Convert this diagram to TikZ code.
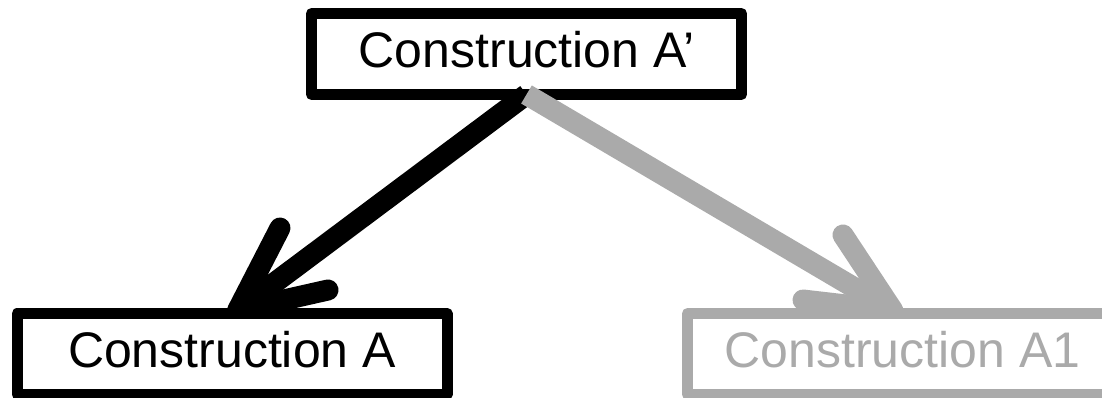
\documentclass[tikz,border=0pt]{standalone}
\usepackage{fontspec}
\setmainfont{Liberation Sans}
\definecolor{fadegray}{RGB}{170,170,170}
\begin{document}
\begin{tikzpicture}[x=1pt,y=-1pt,
  box/.style={draw, line width=11pt, line join=round, fill=white,
    minimum width=430pt, minimum height=81pt, inner sep=0pt, outer sep=0pt,
    font=\fontsize{50}{60}\selectfont, text height=36pt, text depth=9pt},
  faded/.style={draw=fadegray, text=fadegray},
  shaft/.style={line width=21pt, line cap=butt},
  barbs/.style={line width=21pt, line cap=round, line join=round}]
\useasboundingbox (0,0) rectangle (1102,398);
\clip (0,0) rectangle (1102,398);

% parent construction
\node[box] (top) at (526.5,54) {Construction A’};

% arrow heads end just under the top borders of the lower boxes
\coordinate (tipA) at (237.6,310.4);
\coordinate (barbA1) at (280,228);
\coordinate (barbA2) at (328,290);
\coordinate (tipB) at (892.8,310.4);
\coordinate (barbB1) at (843,235);
\coordinate (barbB2) at (803,300);

% black connector
\draw[shaft] (top.south) -- (tipA);
\draw[barbs] (barbA1) -- (tipA) -- (barbA2);

% grey connector
\draw[shaft, fadegray] (top.south) -- (tipB);
\draw[barbs, fadegray] (barbB1) -- (tipB) -- (barbB2);

% derived constructions
\node[box] (a) at (232,354) {Construction A};
\node[box, faded] (a1) at (902.5,354) {Construction A1};
\end{tikzpicture}
\end{document}
